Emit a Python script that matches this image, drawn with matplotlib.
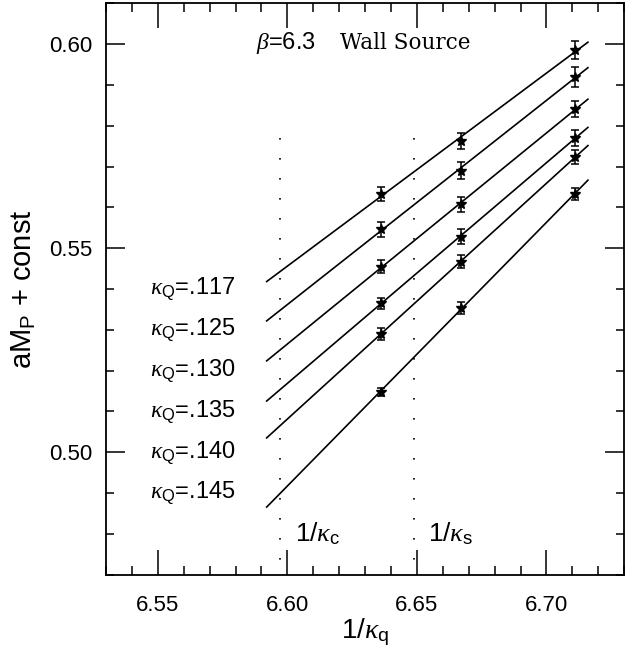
import numpy as np
import matplotlib
matplotlib.use("Agg")
import matplotlib.pyplot as plt
from matplotlib.ticker import MultipleLocator

plt.rcParams['font.family'] = ['Liberation Sans', 'DejaVu Sans']
plt.rcParams['mathtext.fontset'] = 'custom'
plt.rcParams['mathtext.rm'] = 'Liberation Sans'
plt.rcParams['mathtext.sf'] = 'Liberation Sans'
plt.rcParams['mathtext.it'] = 'Liberation Serif:italic'

# 1/kappa_q of the three light quarks
inv_kq = [6.636, 6.667, 6.711]

# heavy quark kappas and aM_P + const for each
kappa_Q = [".117", ".125", ".130", ".135", ".140", ".145"]
mp = [
    [0.5632, 0.5763, 0.5985],
    [0.5546, 0.5690, 0.5920],
    [0.5454, 0.5607, 0.5841],
    [0.5365, 0.5528, 0.5770],
    [0.5290, 0.5467, 0.5723],
    [0.5148, 0.5353, 0.5633],
]
err = [
    [0.0017, 0.0020, 0.0022],
    [0.0018, 0.0021, 0.0024],
    [0.0016, 0.0019, 0.0020],
    [0.0014, 0.0018, 0.0019],
    [0.0014, 0.0016, 0.0018],
    [0.0010, 0.0014, 0.0015],
]

inv_kc = 6.597
inv_ks = 6.649
fit_range = [6.592, 6.716]

fig = plt.figure(figsize=(6.35, 6.53), dpi=100)
ax = fig.add_axes([0.167, 0.12, 0.816, 0.875])

xs = np.array(fit_range)
for i in range(len(kappa_Q)):
    ax.errorbar(inv_kq, mp[i], yerr=err[i], fmt='*', color='black',
                markersize=7, capsize=3, elinewidth=1.1, capthick=1.1)
    a, b = np.polyfit(inv_kq, mp[i], 1)
    ax.plot(xs, a * xs + b, color='black', lw=1.2)
    ax.text(6.547, 0.54 - 0.01 * i, r'$\kappa_{\rm Q}$=' + kappa_Q[i],
            fontsize=17, va='center', ha='left')

for xv in [inv_kc, inv_ks]:
    ax.plot([xv, xv], [0.577, 0.47], color='black', lw=1.2,
            linestyle=(0, (1, 11)))

ax.text(6.6028, 0.48, r'1/$\kappa_{\rm c}$', fontsize=19, va='center')
ax.text(6.6542, 0.48, r'1/$\kappa_{\rm s}$', fontsize=19, va='center')

ax.text(6.5877, 0.6003, r'$\beta$=6.3', fontsize=17, va='center')
ax.text(6.6204, 0.6003, 'Wall Source', fontsize=15.5, va='center',
        family='DejaVu Serif')

ax.set_xlim(6.53, 6.73)
ax.set_ylim(0.47, 0.61)
ax.xaxis.set_minor_locator(MultipleLocator(0.01))
ax.yaxis.set_minor_locator(MultipleLocator(0.01))
ax.set_xticks([6.55, 6.60, 6.65, 6.70])
ax.set_xticklabels(["6.55", "6.60", "6.65", "6.70"])
ax.set_yticks([0.50, 0.55, 0.60])
ax.set_yticklabels(["0.50", "0.55", "0.60"])

ax.tick_params(which='both', direction='in', top=True, right=True,
               labelsize=16, width=1.1)
ax.tick_params(axis='x', which='major', length=18, pad=15)
ax.tick_params(axis='x', which='minor', length=6.5)
ax.tick_params(axis='y', which='major', length=14, pad=10)
ax.tick_params(axis='y', which='minor', length=6)
for s in ax.spines.values():
    s.set_linewidth(1.3)

ax.set_xlabel(r'1/$\kappa_{\rm q}$', fontsize=20, labelpad=0)
ax.set_ylabel(r'aM$_{\rm P}$ + const', fontsize=21, labelpad=8)

fig.savefig("out.png", dpi=100)
